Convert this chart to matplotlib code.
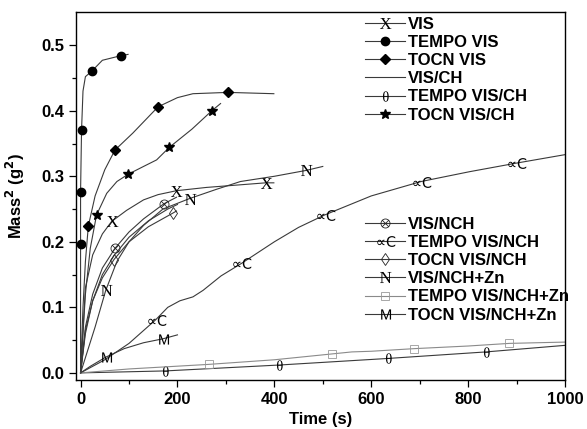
import numpy as np
import matplotlib
matplotlib.use("Agg")
import matplotlib.pyplot as plt
from matplotlib.lines import Line2D
from matplotlib.path import Path
from matplotlib.textpath import TextPath
from matplotlib.font_manager import FontProperties

# ---- data ----
vis_x = [0, 10, 25, 45, 64, 95, 130, 160, 198, 260, 330, 382, 399]
vis_y = [0, 0.13, 0.18, 0.212, 0.231, 0.248, 0.264, 0.272, 0.278, 0.283, 0.287, 0.290, 0.290]
vis_mx = [64, 198, 382]
vis_my = [0.231, 0.278, 0.290]

tvis_x = [0, 0, 0, 2, 5, 10, 24, 45, 83, 98]
tvis_y = [0, 0.196, 0.276, 0.370, 0.43, 0.452, 0.461, 0.477, 0.484, 0.486]
tvis_mx = [0, 0, 2, 24, 83]
tvis_my = [0.196, 0.276, 0.370, 0.461, 0.484]

ovis_x = [0, 5, 10, 16, 30, 50, 71, 108, 160, 200, 232, 304, 399]
ovis_y = [0, 0.1, 0.17, 0.224, 0.27, 0.31, 0.340, 0.366, 0.406, 0.42, 0.426, 0.428, 0.426]
ovis_mx = [16, 71, 160, 304]
ovis_my = [0.224, 0.340, 0.406, 0.428]

visch_x = [0, 10, 25, 45, 70, 100, 140, 180, 200]
visch_y = [0, 0.06, 0.11, 0.15, 0.18, 0.207, 0.232, 0.25, 0.257]

tvisch_x = [0, 175, 410, 634, 837, 1000]
tvisch_y = [0, 0.003, 0.012, 0.022, 0.032, 0.042]
tvisch_mx = [175, 410, 634, 837]
tvisch_my = [0.003, 0.012, 0.022, 0.032]

ovisch_x = [0, 10, 20, 33, 54, 75, 98, 130, 157, 183, 230, 271, 289]
ovisch_y = [0, 0.12, 0.19, 0.241, 0.274, 0.292, 0.303, 0.315, 0.325, 0.344, 0.372, 0.400, 0.411]
ovisch_mx = [33, 98, 183, 271]
ovisch_my = [0.241, 0.303, 0.344, 0.400]

visnch_x = [0, 10, 25, 45, 71, 100, 130, 172, 198]
visnch_y = [0, 0.07, 0.12, 0.16, 0.190, 0.215, 0.235, 0.258, 0.268]
visnch_mx = [71, 172]
visnch_my = [0.190, 0.258]

tvisnch_x = [0, 50, 100, 155, 180, 205, 232, 253, 290, 332, 400, 450, 504, 600, 703, 803, 899, 1000]
tvisnch_y = [0, 0.02, 0.045, 0.081, 0.1, 0.110, 0.116, 0.126, 0.148, 0.167, 0.2, 0.222, 0.241,
             0.27, 0.292, 0.307, 0.320, 0.333]
tvisnch_mx = [155, 332, 504, 703, 899]
tvisnch_my = [0.081, 0.167, 0.241, 0.292, 0.320]

ovisnch_x = [0, 10, 25, 45, 69, 100, 140, 191, 198]
ovisnch_y = [0, 0.065, 0.11, 0.145, 0.173, 0.2, 0.223, 0.244, 0.247]
ovisnch_mx = [69, 191]
ovisnch_my = [0.173, 0.244]

zn_x = [0, 15, 30, 52, 75, 100, 130, 170, 225, 280, 330, 400, 466, 500]
zn_y = [0, 0.035, 0.07, 0.126, 0.17, 0.2, 0.225, 0.25, 0.266, 0.28, 0.292, 0.300, 0.309, 0.315]
zn_mx = [52, 225, 466]
zn_my = [0.126, 0.266, 0.309]

tzn_x = [0, 100, 265, 400, 520, 560, 600, 689, 800, 885, 1000]
tzn_y = [0, 0.006, 0.013, 0.02, 0.029, 0.032, 0.033, 0.037, 0.041, 0.045, 0.047]
tzn_mx = [265, 520, 689, 885]
tzn_my = [0.013, 0.029, 0.037, 0.045]

ozn_x = [0, 20, 52, 90, 130, 170, 200]
ozn_y = [0, 0.01, 0.024, 0.037, 0.046, 0.052, 0.058]
ozn_mx = [52, 170]
ozn_my = [0.024, 0.052]

labels1 = ["VIS", "TEMPO VIS", "TOCN VIS", "VIS/CH", "TEMPO VIS/CH", "TOCN VIS/CH"]
labels2 = ["VIS/NCH", "TEMPO VIS/NCH", "TOCN VIS/NCH", "VIS/NCH+Zn",
           "TEMPO VIS/NCH+Zn", "TOCN VIS/NCH+Zn"]


def glyph(txt, family):
    # text glyph as a marker path, centred on (0, 0)
    p = TextPath((0, 0), txt, size=10,
                 prop=FontProperties(family=family, weight='normal'))
    v = p.vertices.copy()
    lo, hi = v.min(axis=0), v.max(axis=0)
    v -= (lo + hi) / 2
    return Path(v, p.codes)


circ = Path.unit_circle()
d = 0.7071
cross = Path([(-d, -d), (d, d), (-d, d), (d, -d)],
             [Path.MOVETO, Path.LINETO, Path.MOVETO, Path.LINETO])
otimes = Path.make_compound_path(circ, cross)

plt.rcParams['font.family'] = ['Liberation Sans', 'DejaVu Sans']
plt.rcParams['font.weight'] = 'bold'

fig = plt.figure(figsize=(5.87, 4.29), dpi=100)
ax = fig.add_axes([0.129, 0.114, 0.8335, 0.857])

lc = '#3a3a3a'
lw = 0.8
txt_mk = dict(mfc='black', mec='none', mew=0)

series = [
    (vis_x, vis_y, vis_mx, vis_my, dict(marker=glyph('X', 'Liberation Serif'), ms=8.5, color='black', **txt_mk)),
    (tvis_x, tvis_y, tvis_mx, tvis_my, dict(marker='o', ms=6, mfc='black', mec='black', color='black')),
    (ovis_x, ovis_y, ovis_mx, ovis_my, dict(marker='D', ms=5.5, mfc='black', mec='black', color='black')),
    (visch_x, visch_y, [], [], dict(marker='None')),
    (tvisch_x, tvisch_y, tvisch_mx, tvisch_my, dict(marker=glyph('\u03b8', 'Liberation Serif'), ms=7.5, color='black', **txt_mk)),
    (ovisch_x, ovisch_y, ovisch_mx, ovisch_my, dict(marker='*', ms=7.5, mfc='black', mec='black', color='black')),
    (visnch_x, visnch_y, visnch_mx, visnch_my, dict(marker=otimes, ms=6.5, mfc='none', mec='#222222', mew=0.6, color='black')),
    (tvisnch_x, tvisnch_y, tvisnch_mx, tvisnch_my, dict(marker=glyph('\u221dC', 'DejaVu Sans'), ms=14, color='black', **txt_mk)),
    (ovisnch_x, ovisnch_y, ovisnch_mx, ovisnch_my, dict(marker='d', ms=6, mfc='none', mec='#222222', mew=0.6, color='black')),
    (zn_x, zn_y, zn_mx, zn_my, dict(marker=glyph('N', 'Liberation Serif'), ms=8.5, color='black', **txt_mk)),
    (tzn_x, tzn_y, tzn_mx, tzn_my, dict(marker='s', ms=6, mfc='none', mec='#999999', mew=0.6, color='#999999')),
    (ozn_x, ozn_y, ozn_mx, ozn_my, dict(marker=glyph('M', 'Liberation Sans'), ms=8, color='black', **txt_mk)),
]

handles = []
for x, y, mx, my, st in series:
    linecol = '#8a8a8a' if st.get('color') == '#999999' else lc
    ax.plot(x, y, color=linecol, lw=lw)
    mk = {k: v for k, v in st.items() if k != 'color'}
    if len(mx):
        ax.plot(mx, my, ls='none', **mk)
    handles.append(Line2D([], [], color=linecol, lw=lw, **mk))

ax.set_xlim(-10, 1000)
ax.set_ylim(-0.011, 0.55)
ax.set_xticks(np.arange(0, 1001, 200))
ax.set_xticks(np.arange(100, 1000, 200), minor=True)
ax.set_yticks(np.arange(0, 0.51, 0.1))
ax.set_yticks(np.arange(0.05, 0.51, 0.1), minor=True)
ax.set_yticklabels(['%.1f' % v for v in np.arange(0, 0.51, 0.1)])
ax.tick_params(which='major', length=5, width=0.9, labelsize=12, direction='out')
ax.tick_params(which='minor', length=3, width=0.9, direction='out')
for s in ax.spines.values():
    s.set_linewidth(1.0)

ax.set_xlabel('Time (s)', fontsize=12, fontweight='bold', labelpad=4)
ax.set_ylabel('Mass$^2$ (g$^2$)', fontsize=12, fontweight='bold', labelpad=10)

leg_kw = dict(frameon=False, fontsize=12, numpoints=1, handlelength=2.4,
              handletextpad=0.2, labelspacing=0.19, borderaxespad=0)
leg1 = ax.legend(handles[:6], labels1, loc='upper left',
                 bbox_to_anchor=(358 / 587, 1 - 10 / 429), bbox_transform=fig.transFigure, **leg_kw)
ax.add_artist(leg1)
ax.legend(handles[6:], labels2, loc='upper left',
          bbox_to_anchor=(358 / 587, 1 - 210 / 429), bbox_transform=fig.transFigure, **leg_kw)

fig.savefig('out.png', dpi=100)
